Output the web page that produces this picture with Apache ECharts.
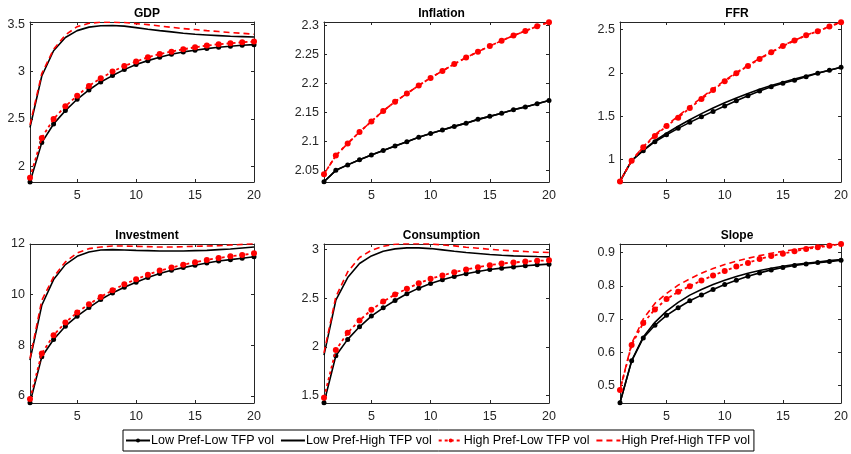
<!DOCTYPE html>
<html>
<head>
<meta charset="utf-8">
<script src="https://cdn.jsdelivr.net/npm/echarts@6/dist/echarts.min.js"></script>
<style>
html, body { margin: 0; padding: 0; background: #fff; }
#main { width: 851px; height: 454px; }
</style>
</head>
<body>
<div id="main"></div>
<script>
var periods = [1,2,3,4,5,6,7,8,9,10,11,12,13,14,15,16,17,18,19,20];
var seriesNames = ['Low Pref-Low TFP vol', 'Low Pref-High TFP vol', 'High Pref-Low TFP vol', 'High Pref-High TFP vol'];
var xTicks = [5, 10, 15, 20];

// GDP
var gdpLL = [1.835,2.25,2.447,2.588,2.708,2.806,2.891,2.958,3.021,3.074,3.116,3.151,3.183,3.208,3.225,3.243,3.257,3.268,3.278,3.285];
var gdpLH = [2.41,2.954,3.22,3.36,3.433,3.47,3.485,3.487,3.48,3.465,3.447,3.433,3.42,3.405,3.394,3.387,3.38,3.373,3.37,3.366];
var gdpHL = [1.88,2.30,2.50,2.634,2.746,2.849,2.93,3.0,3.06,3.106,3.151,3.187,3.211,3.236,3.257,3.275,3.289,3.30,3.31,3.317];
var gdpHH = [2.437,2.98,3.236,3.387,3.475,3.51,3.522,3.522,3.518,3.507,3.496,3.482,3.468,3.454,3.444,3.433,3.423,3.412,3.405,3.394];
var gdpTicks = [2, 2.5, 3, 3.5];

// Inflation
var infLL = [2.031,2.0506,2.060,2.069,2.077,2.085,2.0925,2.100,2.1075,2.114,2.120,2.1264,2.132,2.1385,2.1437,2.149,2.155,2.160,2.1655,2.171];
var infLH = [2.031,2.0506,2.060,2.069,2.077,2.085,2.0925,2.100,2.1075,2.114,2.120,2.1264,2.132,2.1385,2.1437,2.149,2.155,2.160,2.1655,2.171];
var infHL = [2.044,2.076,2.097,2.1167,2.135,2.153,2.169,2.183,2.197,2.210,2.222,2.234,2.245,2.255,2.265,2.274,2.283,2.291,2.299,2.306];
var infHH = [2.044,2.076,2.097,2.1167,2.135,2.153,2.169,2.183,2.197,2.210,2.222,2.234,2.245,2.255,2.265,2.274,2.283,2.291,2.299,2.306];
var infTicks = [2.05, 2.1, 2.15, 2.2, 2.25, 2.3];

// FFR
var ffrLL = [0.751,0.989,1.104,1.207,1.288,1.361,1.43,1.495,1.556,1.618,1.679,1.737,1.790,1.840,1.879,1.913,1.955,1.994,2.028,2.063];
var ffrLH = [0.751,0.99,1.11,1.218,1.305,1.385,1.46,1.53,1.595,1.655,1.71,1.762,1.81,1.853,1.892,1.928,1.963,1.998,2.03,2.063];
var ffrHL = [0.751,0.989,1.143,1.273,1.388,1.484,1.595,1.698,1.802,1.902,1.994,2.078,2.159,2.235,2.308,2.370,2.431,2.477,2.531,2.581];
var ffrHH = [0.751,0.992,1.15,1.285,1.40,1.5,1.61,1.712,1.815,1.912,2.003,2.086,2.165,2.24,2.312,2.373,2.433,2.48,2.533,2.582];
var ffrTicks = [1, 1.5, 2, 2.5];

// Investment
var invLL = [5.737,7.55,8.232,8.757,9.151,9.492,9.807,10.07,10.293,10.49,10.674,10.832,10.963,11.068,11.16,11.25,11.33,11.383,11.436,11.50];
var invLH = [7.42,9.584,10.595,11.186,11.514,11.685,11.764,11.777,11.764,11.75,11.737,11.724,11.724,11.724,11.737,11.75,11.777,11.80,11.84,11.88];
var invHL = [5.88,7.68,8.40,8.90,9.296,9.624,9.913,10.175,10.41,10.608,10.79,10.95,11.068,11.186,11.278,11.37,11.449,11.514,11.567,11.632];
var invHH = [7.48,9.78,10.70,11.29,11.645,11.816,11.88,11.92,11.92,11.908,11.895,11.88,11.88,11.895,11.908,11.92,11.935,11.96,11.985,12.01];
var invTicks = [6, 8, 10, 12];

// Consumption
var conLL = [1.428,1.910,2.078,2.207,2.317,2.402,2.477,2.546,2.604,2.652,2.689,2.723,2.751,2.775,2.795,2.809,2.822,2.833,2.843,2.85];
var conLH = [1.917,2.48,2.713,2.857,2.935,2.983,3.007,3.017,3.017,3.01,2.997,2.983,2.97,2.96,2.95,2.942,2.935,2.932,2.928,2.925];
var conHL = [1.48,1.968,2.146,2.272,2.382,2.467,2.539,2.597,2.655,2.70,2.734,2.768,2.795,2.819,2.84,2.857,2.867,2.877,2.884,2.89];
var conHH = [1.94,2.515,2.771,2.918,2.993,3.034,3.055,3.06,3.06,3.058,3.048,3.038,3.024,3.014,3.003,2.993,2.986,2.98,2.973,2.97];
var conTicks = [1.5, 2, 2.5, 3];

// Slope
var slpLL = [0.448,0.574,0.643,0.681,0.711,0.734,0.755,0.772,0.789,0.804,0.817,0.829,0.839,0.848,0.855,0.861,0.866,0.870,0.873,0.877];
var slpLH = [0.448,0.574,0.646,0.690,0.724,0.75,0.772,0.789,0.804,0.817,0.828,0.838,0.846,0.853,0.859,0.864,0.868,0.872,0.876,0.879];
var slpHL = [0.486,0.622,0.688,0.729,0.760,0.782,0.799,0.816,0.831,0.845,0.858,0.869,0.881,0.890,0.897,0.904,0.911,0.916,0.921,0.926];
var slpHH = [0.486,0.626,0.70,0.747,0.777,0.802,0.821,0.838,0.852,0.864,0.874,0.883,0.891,0.898,0.904,0.909,0.914,0.919,0.923,0.926];
var slpTicks = [0.5, 0.6, 0.7, 0.8, 0.9];

var panels = [
  { title: 'GDP',         box: [30, 22, 224, 160],  yMin: 1.834, yMax: 3.524, ticks: gdpTicks, data: [gdpLL, gdpLH, gdpHL, gdpHH] },
  { title: 'Inflation',   box: [324, 22, 225, 160], yMin: 2.0305, yMax: 2.3064, ticks: infTicks, data: [infLL, infLH, infHL, infHH] },
  { title: 'FFR',         box: [620, 22, 224, 160], yMin: 0.744, yMax: 2.584, ticks: ffrTicks, data: [ffrLL, ffrLH, ffrHL, ffrHH] },
  { title: 'Investment',  box: [30, 244, 224, 159], yMin: 5.725, yMax: 12, ticks: invTicks, data: [invLL, invLH, invHL, invHH] },
  { title: 'Consumption', box: [324, 244, 225, 159], yMin: 1.425, yMax: 3.057, ticks: conTicks, data: [conLL, conLH, conHL, conHH] },
  { title: 'Slope',       box: [620, 244, 224, 159], yMin: 0.447, yMax: 0.926, ticks: slpTicks, data: [slpLL, slpLH, slpHL, slpHH] }
];

var styles = [
  { color: '#000000', type: 'solid', width: 1.6, symbol: 'circle', size: 5 },
  { color: '#000000', type: 'solid', width: 1.6, symbol: 'none', size: 0 },
  { color: '#ff0000', type: [3, 3], width: 1.8, symbol: 'circle', size: 6 },
  { color: '#ff0000', type: [6, 4], width: 1.6, symbol: 'none', size: 0 }
];

var axisColor = '#262626';
var font = 'Liberation Sans, Arial, sans-serif';

var grid = [], xAxis = [], yAxis = [], series = [], title = [];

panels.forEach(function (p, i) {
  grid.push({ left: p.box[0], top: p.box[1], width: p.box[2], height: p.box[3], containLabel: false });
  title.push({
    text: p.title, left: p.box[0] + p.box[2] / 2, top: p.box[1] - 19, textAlign: 'center',
    textStyle: { fontFamily: font, fontSize: 12, fontWeight: 'bold', color: '#000' }
  });
  // bottom and top x axes (box look)
  [false, true].forEach(function (isTop) {
    xAxis.push({
      gridIndex: i, type: 'value', min: 1, max: 20, position: isTop ? 'top' : 'bottom',
      axisLine: { show: true, onZero: false, lineStyle: { color: axisColor, width: 1 } },
      axisTick: { show: true, inside: true, length: 3, customValues: xTicks, lineStyle: { color: axisColor } },
      axisLabel: { show: !isTop, customValues: xTicks, color: axisColor, fontFamily: font, fontSize: 12.5, margin: 7 },
      splitLine: { show: false }
    });
  });
  [false, true].forEach(function (isRight) {
    yAxis.push({
      gridIndex: i, type: 'value', min: p.yMin, max: p.yMax, position: isRight ? 'right' : 'left',
      axisLine: { show: true, onZero: false, lineStyle: { color: axisColor, width: 1 } },
      axisTick: { show: true, inside: true, length: 3, customValues: p.ticks, lineStyle: { color: axisColor } },
      axisLabel: { show: !isRight, customValues: p.ticks, color: axisColor, fontFamily: font, fontSize: 12.5, margin: 5 },
      splitLine: { show: false }
    });
  });
  p.data.forEach(function (vals, k) {
    var s = styles[k];
    series.push({
      name: seriesNames[k], type: 'line', xAxisIndex: i * 2, yAxisIndex: i * 2,
      data: periods.map(function (t, j) { return [t, vals[j]]; }),
      symbol: s.symbol, symbolSize: s.size, showSymbol: s.symbol !== 'none',
      itemStyle: { color: s.color },
      lineStyle: { color: s.color, type: s.type, width: s.width },
      animation: false, clip: true, z: 2 + k
    });
  });
});

var legendData = seriesNames.map(function (n, k) {
  var item = { name: n };
  if (styles[k].symbol === 'none') item.itemStyle = { opacity: 0 };
  return item;
});

var chart = echarts.init(document.getElementById('main'), null, { renderer: 'canvas' });
chart.setOption({
  backgroundColor: '#fff',
  animation: false,
  title: title,
  grid: grid,
  xAxis: xAxis,
  yAxis: yAxis,
  legend: {
    data: legendData, left: 123, top: 430, orient: 'horizontal',
    itemWidth: 24, itemHeight: 5, itemGap: 6,
    borderColor: '#000', borderWidth: 1, backgroundColor: '#fff', padding: [4, 4, 4, 2],
    textStyle: { fontFamily: font, fontSize: 12.5, color: '#000', padding: [0, 0, 0, -4] }
  },
  series: series
});
</script>
</body>
</html>
